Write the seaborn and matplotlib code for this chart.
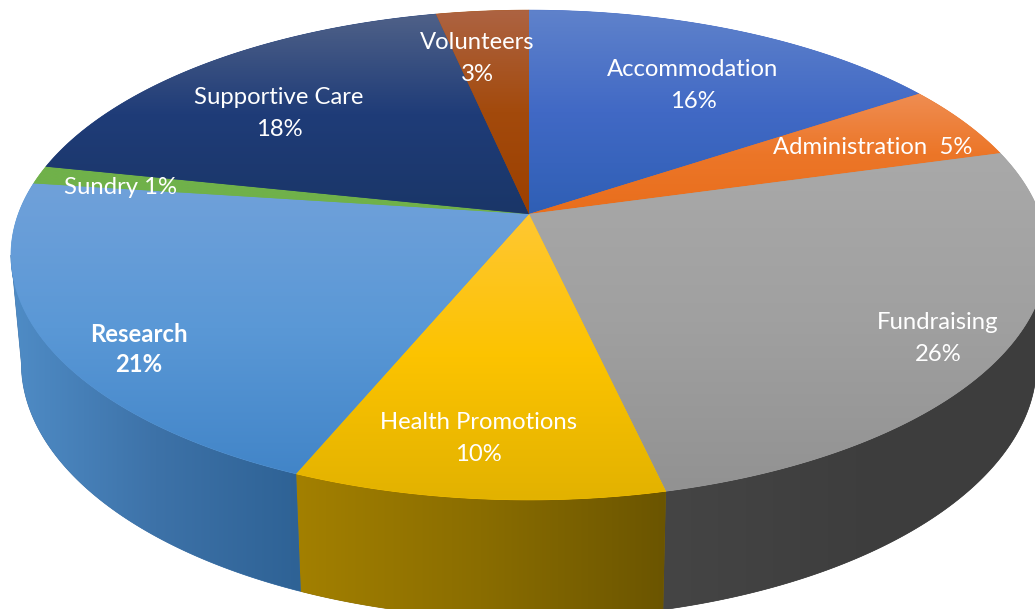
#!/usr/bin/env python3
"""Perspective 3D-look pie of spending shares, white labels on gradient slices."""

import numpy as np
import matplotlib
matplotlib.use("Agg")
import matplotlib.pyplot as plt
from matplotlib.patches import Polygon
import seaborn as sns

categories = ["Accommodation", "Administration", "Fundraising", "Health Promotions",
              "Research", "Sundry", "Supportive Care", "Volunteers"]
shares = [15.7, 5.0, 25.7, 9.9, 20.8, 1.2, 18.3, 3.4]

# top-face gradients, top of slice to bottom of slice
top_colors = [
    ["#5f82cb", "#4169c5", "#2f5fb5"],
    ["#ef8d52", "#ec7628", "#e96e1c"],
    ["#a9a9a9", "#a0a0a0", "#929292"],
    ["#ffc733", "#fcc300", "#e2b200"],
    ["#70a1da", "#5a98d6", "#4285c8"],
    ["#70b14a", "#70b14a", "#70b14a"],
    ["#4f6188", "#1f3c78", "#1a3668"],
    ["#ad6342", "#a34a0c", "#9c4000"],
]
# side walls, left to right
wall_colors = {
    "Research": ["#4f8cc6", "#3d72a8", "#2e6295"],
    "Health Promotions": ["#a38000", "#8a6d00", "#6b5500"],
    "Fundraising": ["#454545", "#3e3e3e", "#3d3d3d"],
}
# label centres in pixels
label_pos = [(693, 85.5), (873, 148), (938, 338.5), (478, 438.5),
             (139, 349.5), (120, 188), (279, 113.5), (477, 58.5)]
one_line = ["Administration", "Sundry"]

W, H = 1035, 609
CX, CY = 529, 214
A, B, K = 510.7, 238.0, 0.1675
FLOOR_Y, FLOOR_SX, FLOOR_SY = 320, 0.98, 1.045


def project(theta, cy=CY, sx=1.0, sy=1.0):
    """Map a pie angle (deg, matplotlib convention) on the unit circle to pixels."""
    t = np.radians(theta)
    u, v = np.cos(t), np.sin(t)
    w = 1 + K * v
    return np.column_stack([CX + sx * A * u / w, cy - sy * B * v / w])


def paint(ax, pts, colors, vertical, z):
    """Fill a polygon with a gradient image clipped to it."""
    xmin, ymin = pts.min(axis=0)
    xmax, ymax = pts.max(axis=0)
    # flat backing stops light seams along the clipped edges
    ax.add_patch(Polygon(pts, closed=True, fc=colors[1], ec=colors[1], lw=0.5, zorder=z))
    cmap = sns.blend_palette(colors, as_cmap=True)
    ramp = np.linspace(0, 1, 256)
    ramp = ramp[:, None] if vertical else ramp[None, :]
    im = ax.imshow(ramp, cmap=cmap, vmin=0, vmax=1, aspect="auto", zorder=z + 0.5,
                   extent=(xmin, xmax, ymax, ymin), interpolation="bilinear")
    im.set_clip_path(Polygon(pts, closed=True, transform=ax.transData))


def main():
    sns.set_theme(style="white")
    plt.rcParams["font.family"] = ["Lato", "DejaVu Sans"]

    fig = plt.figure(figsize=(W / 100, H / 100), dpi=100, facecolor="white")
    ax = fig.add_axes([0, 0, 1, 1])

    # pie does the angles, the wedges are then redrawn in perspective
    wedges, _ = ax.pie(shares, startangle=90, counterclock=False)
    for name, colors, wedge in zip(categories, top_colors, wedges):
        wedge.set_visible(False)
        if name in wall_colors:
            th = np.linspace(wedge.theta1, wedge.theta2, 240)
            # only the front of the rim, up to the widest point of the ellipse
            th = th[np.sin(np.radians(th)) <= -K]
            rim = project(th)
            floor = project(th, FLOOR_Y, FLOOR_SX, FLOOR_SY)
            paint(ax, np.vstack([rim, floor[::-1]]), wall_colors[name], False, 1)

    for colors, wedge in zip(top_colors, wedges):
        th = np.linspace(wedge.theta1, wedge.theta2, 120)
        pts = np.vstack([[CX, CY], project(th)])
        paint(ax, pts, colors, True, 2)

    for name, share, (x, y) in zip(categories, shares, label_pos):
        if name == "Administration":
            label = f"{name}  {share:.0f}%"
        elif name in one_line:
            label = f"{name} {share:.0f}%"
        else:
            label = f"{name}\n{share:.0f}%"
        bold = name == "Research"
        ax.text(x, y, label, color="white", fontsize=17.2, ha="center", va="center",
                linespacing=1.4 if bold else 1.6, zorder=5,
                fontweight="bold" if bold else "normal")

    ax.set_aspect("auto")
    ax.set_xlim(0, W)
    ax.set_ylim(H, 0)
    ax.axis("off")

    fig.savefig("out.png", dpi=100, facecolor="white")
    plt.close(fig)


if __name__ == "__main__":
    main()
